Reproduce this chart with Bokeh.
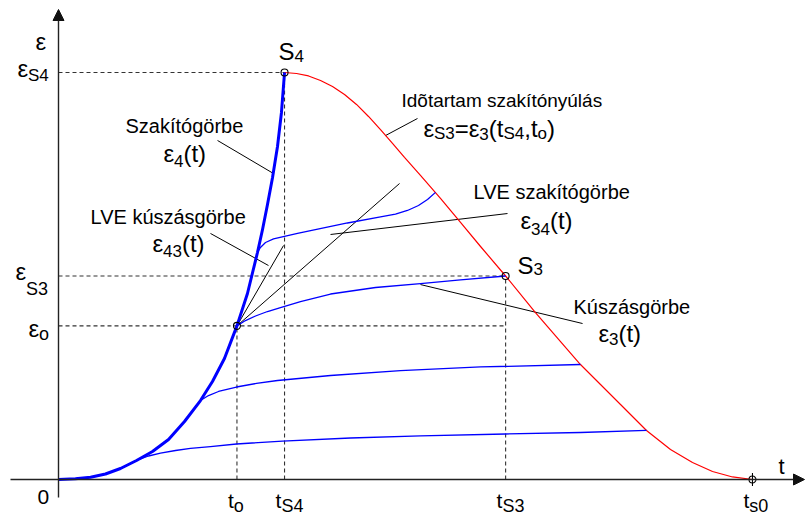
from bokeh.plotting import figure
from bokeh.models import Range1d, Label, Arrow, NormalHead
from bokeh.embed import file_html
from bokeh.resources import INLINE

# ---------------------------------------------------------------------------
# Characteristic points of the creep-rupture diagram (arbitrary units)
# ---------------------------------------------------------------------------
T_O, T_S4, T_S3, T_S0 = 1.80, 2.28, 4.51, 7.00
EPS_O, EPS_S3, EPS_S4 = 1.51, 2.00, 4.00

# Rupture curve eps4(t) (thick blue), from the origin up to S4
t_rupture = [0.000, 0.171, 0.323, 0.474, 0.625, 0.787, 0.948, 1.110, 1.271,
             1.432, 1.553, 1.674, T_O, 1.906, 2.007, 2.058, 2.108, 2.159,
             2.209, 2.249, T_S4]
eps_rupture = [0.000, 0.007, 0.022, 0.054, 0.108, 0.187, 0.275, 0.393, 0.570,
               0.776, 0.963, 1.189, EPS_O, 1.828, 2.231, 2.457, 2.703, 2.968,
               3.273, 3.607, EPS_S4]

# Duration rupture strain (red), from S4 down to t_s0
t_duration = [T_S4, 2.401, 2.522, 2.643, 2.764, 2.885, 3.006, 3.127, 3.248,
              3.369, 3.490, 3.651, 3.853, 4.055, 4.257, T_S3, 4.811, 5.064,
              5.265, 5.467, 5.669, 5.931, 6.173, 6.395, 6.597, 6.799, T_S0]
eps_duration = [EPS_S4, 3.990, 3.966, 3.921, 3.862, 3.784, 3.686, 3.568, 3.439,
                3.303, 3.165, 2.988, 2.762, 2.526, 2.290, EPS_S3, 1.641, 1.356,
                1.130, 0.934, 0.737, 0.482, 0.295, 0.167, 0.079, 0.025, 0.000]

# Creep curves (thin blue)
t_creep_1 = [0.787, 0.908, 1.029, 1.180, 1.331, 1.533, 1.795, 2.259, 2.945,
             3.651, 4.509, 5.265, 5.931]
eps_creep_1 = [0.187, 0.231, 0.260, 0.285, 0.305, 0.324, 0.349, 0.378, 0.408,
               0.428, 0.447, 0.462, 0.482]

t_creep_2 = [1.432, 1.513, 1.614, 1.795, 1.997, 2.209, 2.744, 3.450, 4.257, 5.265]
eps_creep_2 = [0.776, 0.825, 0.865, 0.909, 0.944, 0.973, 1.022, 1.071, 1.106, 1.130]

# Creep curve eps3(t), from (t_o, eps_o) to S3
t_creep_3 = [T_O, 1.886, 1.987, 2.108, 2.239, 2.441, 2.744, 3.198, 3.651, 4.055, T_S3]
eps_creep_3 = [EPS_O, 1.562, 1.607, 1.651, 1.690, 1.749, 1.823, 1.887, 1.926, 1.961, EPS_S3]

# LVE rupture curve eps34(t)
t_lve_rupture = [2.007, 2.037, 2.088, 2.169, 2.411, 2.915, 3.248, 3.399, 3.520,
                 3.631, 3.722, 3.803]
eps_lve_rupture = [2.231, 2.280, 2.329, 2.364, 2.418, 2.521, 2.580, 2.609, 2.644,
                   2.693, 2.752, 2.822]

# Tangent lines drawn from (t_o, eps_o)
tangent_t_end = [2.270, 3.440]
tangent_eps_end = [2.300, 2.909]

# Leader lines from the captions to the curves: (t0, eps0, t1, eps1)
leaders = [
    (1.604, 3.332, 2.169, 3.007),   # Szakítógörbe
    (1.533, 2.418, 2.118, 2.103),   # LVE kúszásgörbe
    (2.744, 2.408, 4.529, 2.614),   # LVE szakítógörbe
    (3.651, 1.916, 5.286, 1.533),   # Kúszásgörbe
    (3.298, 3.380, 3.621, 3.548),   # Időtartam szakítónyúlás
]

# ---------------------------------------------------------------------------
# Canvas: 1 unit of t = PX_T pixels, 1 unit of eps = PX_E pixels
# ---------------------------------------------------------------------------
W, H = 805, 516
PX_T, PX_E = 99.14, 101.75
OX, OY = 58, 479            # pixel position of the origin

def xd(px):
    return (px - OX) / PX_T

def yd(py):
    return (OY - py) / PX_E

p = figure(width=W, height=H,
           x_range=Range1d(xd(0), xd(W)), y_range=Range1d(yd(H), yd(0)),
           x_axis_type=None, y_axis_type=None,
           output_backend="svg", toolbar_location=None,
           min_border=0, outline_line_color=None,
           background_fill_color="white", border_fill_color="white")

FONT = "Liberation Sans"
BLUE, RED, INK = "#0000ff", "#ff0000", "#111111"

# --- axes with arrow heads
p.add_layout(Arrow(end=NormalHead(size=11, fill_color=INK, line_color=INK, line_width=1),
                   x_start=0, y_start=yd(497), x_end=0, y_end=yd(9),
                   line_color="#222222", line_width=1.4))
p.add_layout(Arrow(end=NormalHead(size=11, fill_color=INK, line_color=INK, line_width=1),
                   x_start=xd(10), y_start=0, x_end=xd(804), y_end=0,
                   line_color="#222222", line_width=1.4))

# --- dashed reference lines
dash = dict(line_color="#333333", line_width=1.1, line_dash="4 3")
p.segment(x0=[0, 0, 0], y0=[EPS_S4, EPS_S3, EPS_O],
          x1=[T_S4, T_S3, T_S3], y1=[EPS_S4, EPS_S3, EPS_O], **dash)
p.segment(x0=[T_O, T_S4, T_S3], y0=[0, 0, 0],
          x1=[T_O, T_S4, T_S3], y1=[EPS_O, EPS_S4, EPS_S3], **dash)

# --- tangents and leader lines
p.segment(x0=[T_O] * len(tangent_t_end), y0=[EPS_O] * len(tangent_t_end),
          x1=tangent_t_end, y1=tangent_eps_end, line_color="black", line_width=1)
p.segment(x0=[l[0] for l in leaders], y0=[l[1] for l in leaders],
          x1=[l[2] for l in leaders], y1=[l[3] for l in leaders],
          line_color="black", line_width=1)

# --- curves
p.line(t_duration, eps_duration, line_color=RED, line_width=1.2)
for tt, ee in [(t_creep_1, eps_creep_1), (t_creep_2, eps_creep_2),
               (t_creep_3, eps_creep_3), (t_lve_rupture, eps_lve_rupture)]:
    p.line(tt, ee, line_color=BLUE, line_width=1.3, line_join="round")
p.line(t_rupture, eps_rupture, line_color=BLUE, line_width=3, line_join="round")

# --- marked points
p.scatter([T_S4, T_O, T_S3], [EPS_S4, EPS_O, EPS_S3], marker="circle", size=7,
          fill_color=None, line_color="black", line_width=1.1)
p.scatter([T_S0], [0], marker="circle", size=7, fill_color=None,
          line_color="black", line_width=1.1)
p.segment(x0=[T_S0], y0=[-0.064], x1=[T_S0], y1=[0.064], line_color="black", line_width=1.1)

# ---------------------------------------------------------------------------
# Text with subscripts: each run is a separate label placed after the previous
# ---------------------------------------------------------------------------
ADV = {' ': .278, '(': .333, ')': .333, ',': .278, '=': .584, 'S': .667,
       'o': .556, 't': .278, 's': .5, 'ε': .4375}
LIFT = 7   # raises the text so that its baseline lands on the given row

def text_width(s, size):
    return sum(ADV.get(c, .556) for c in s) * size

def rich(parts, x, py, dx=0.0, size=24, sub=17, drop=6):
    cx = dx
    for s, is_sub in parts:
        fs = sub if is_sub else size
        p.add_layout(Label(x=x, y=yd(py), x_offset=cx,
                           y_offset=LIFT - (drop if is_sub else 0),
                           text=s, text_font=FONT, text_font_size=f"{fs}px",
                           text_color="black", text_align="left",
                           text_baseline="alphabetic"))
        cx += text_width(s, fs)

def plain(s, px, py, size=20):
    p.add_layout(Label(x=xd(px), y=yd(py), y_offset=LIFT, text=s, text_font=FONT,
                       text_font_size=f"{size}px", text_color="black",
                       text_align="left", text_baseline="alphabetic"))

# axis names and origin
plain("ε", 35, 48, 24)
plain("t", 778, 473, 22)
plain("0", 37, 503, 21)

# strain levels on the vertical axis
rich([("ε", 0), ("S4", 1)], xd(17), 75, drop=7, sub=17)
rich([("ε", 0), ("S3", 1)], xd(15), 278, drop=17, sub=18)
rich([("ε", 0), ("o", 1)], xd(28), 335, drop=5, sub=18)

# time marks on the horizontal axis
for tv, sub_txt in [(T_O, "o"), (T_S4, "S4"), (T_S3, "S3"), (T_S0, "s0")]:
    rich([("t", 0), (sub_txt, 1)], tv, 507, dx=-9, size=21, sub=18, drop=5)

# point names
rich([("S", 0), ("4", 1)], xd(278), 58, size=24, sub=17, drop=4)
rich([("S", 0), ("3", 1)], xd(517), 272, size=24, sub=17, drop=3)

# curve captions
plain("Szakítógörbe", 125, 132)
rich([("ε", 0), ("4", 1), ("(t)", 0)], xd(163), 160, drop=7)
plain("LVE kúszásgörbe", 90, 223)
rich([("ε", 0), ("43", 1), ("(t)", 0)], xd(152), 250, drop=7)
plain("Idõtartam szakítónyúlás", 401, 107, 19)
rich([("ε", 0), ("S3", 1), ("=ε", 0), ("3", 1), ("(t", 0), ("S4", 1),
      (",t", 0), ("o", 1), (")", 0)], xd(423), 135, drop=5)
plain("LVE szakítógörbe", 473, 198)
rich([("ε", 0), ("34", 1), ("(t)", 0)], xd(520), 227, drop=8)
plain("Kúszásgörbe", 573, 313)
rich([("ε", 0), ("3", 1), ("(t)", 0)], xd(598), 340, drop=5)

open("out.html", "w").write(file_html(p, INLINE))
